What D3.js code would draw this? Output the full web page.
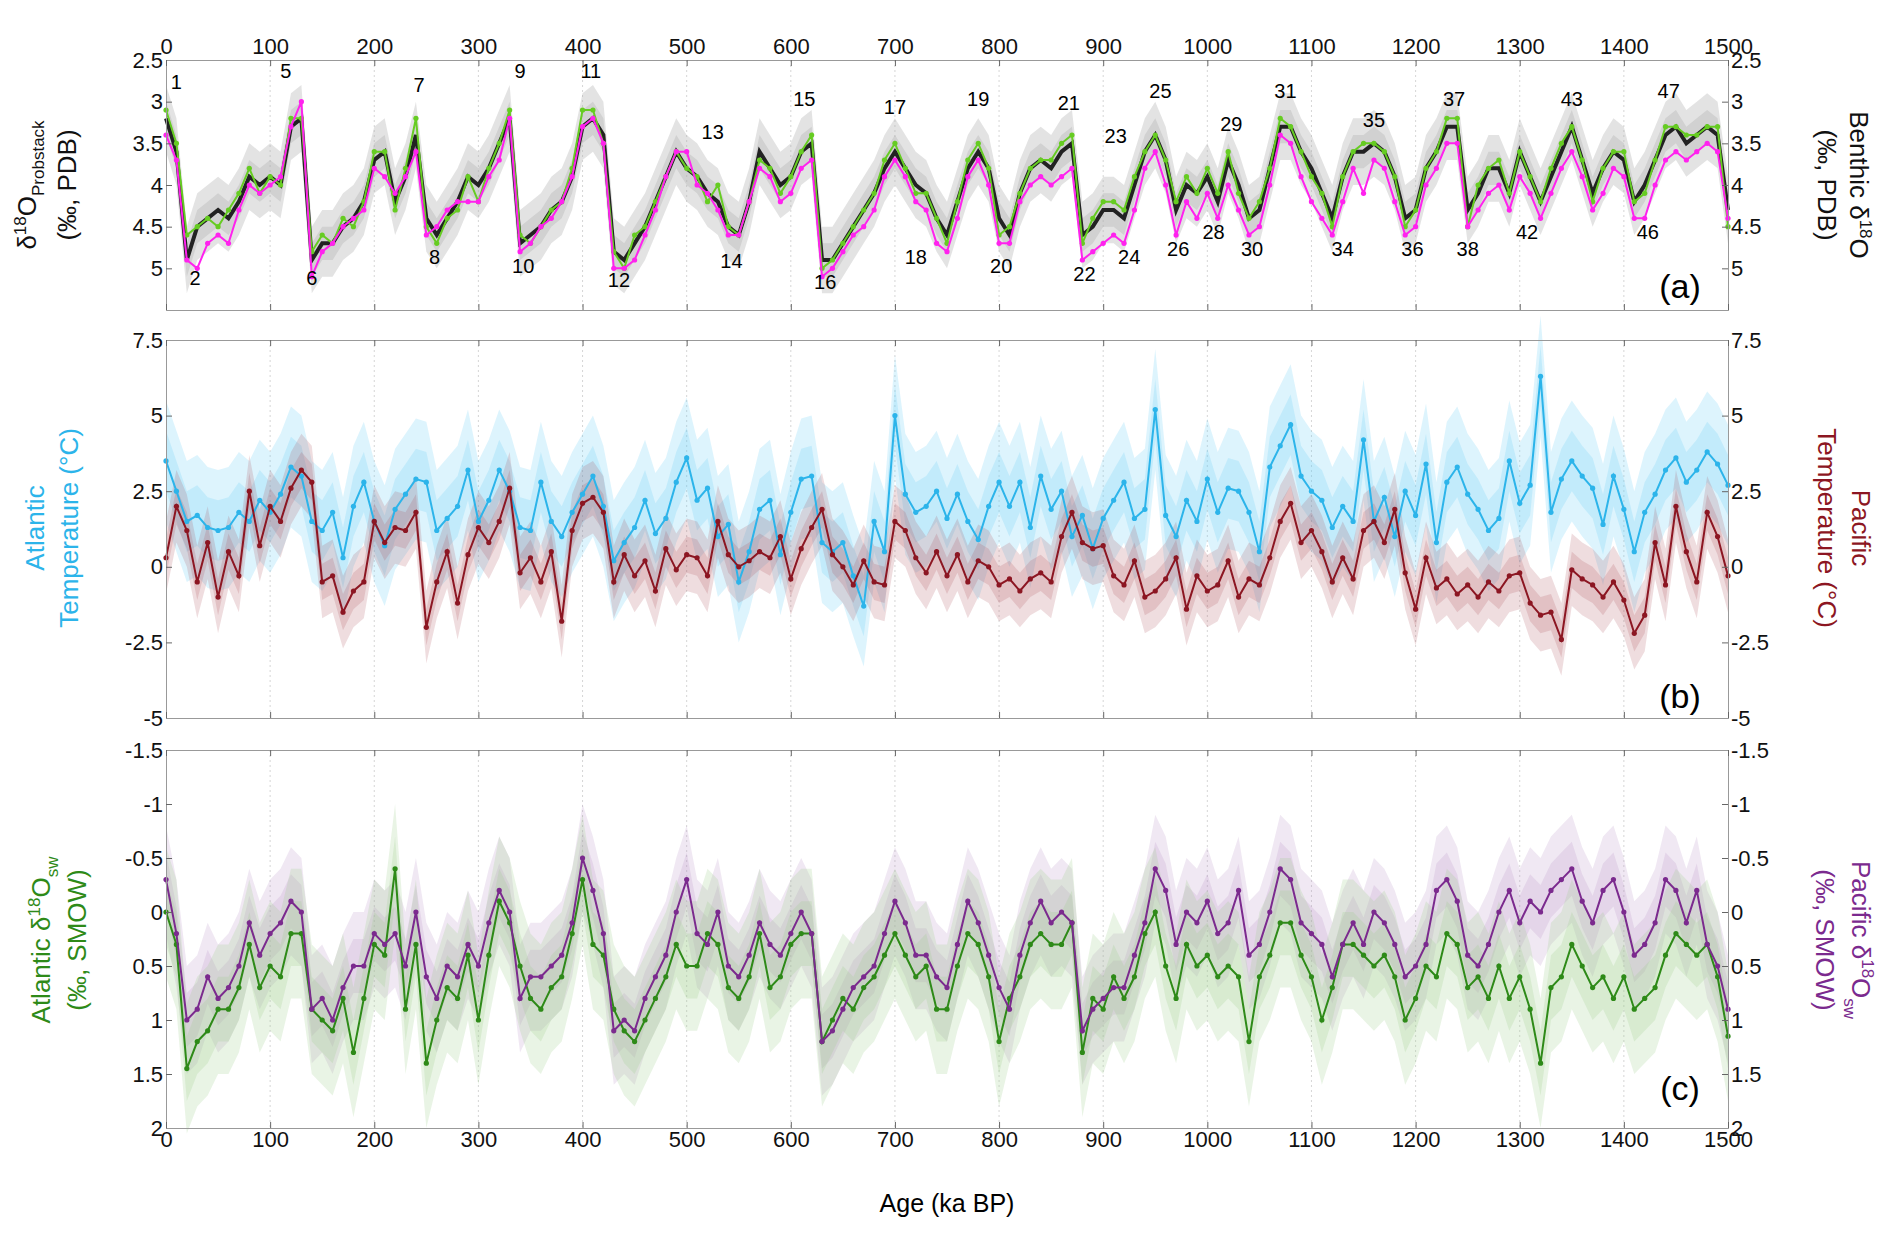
<!DOCTYPE html>
<html><head><meta charset="utf-8">
<script src="https://cdn.jsdelivr.net/npm/d3@7"></script>
<style>body{margin:0;background:#fff}text{font-family:"Liberation Sans",Arial,sans-serif}</style>
</head><body><div id="chart"></div>
<script>
// ages sampled every 10 ka
const ages = d3.range(0, 1501, 10);

const probStack = [3.2,3.6,4.9,4.5,4.4,4.3,4.4,4.2,3.9,4.0,3.9,4.0,3.3,3.2,4.9,4.7,4.7,4.5,4.4,4.2,3.7,3.6,4.2,3.9,3.4,4.4,4.6,4.4,4.2,3.9,4.0,3.8,3.5,3.2,4.7,4.6,4.5,4.3,4.2,3.9,3.3,3.2,3.4,4.8,4.9,4.7,4.5,4.2,3.9,3.6,3.8,3.9,4.1,4.2,4.5,4.6,4.2,3.6,3.8,4.0,3.9,3.6,3.5,4.9,4.9,4.7,4.5,4.3,4.1,3.8,3.6,3.8,4.0,4.1,4.4,4.6,4.2,3.8,3.6,3.8,4.4,4.6,4.1,3.8,3.7,3.8,3.6,3.5,4.6,4.5,4.3,4.3,4.4,4.0,3.6,3.4,3.7,4.3,4.0,4.1,3.9,4.2,3.7,4.0,4.4,4.3,3.8,3.3,3.3,3.6,3.8,4.1,4.4,3.9,3.6,3.6,3.5,3.6,3.9,4.4,4.3,3.8,3.6,3.3,3.3,4.3,4.1,3.8,3.8,4.1,3.6,3.9,4.2,3.9,3.6,3.3,3.7,4.1,3.8,3.6,3.7,4.2,4.0,3.7,3.4,3.3,3.5,3.4,3.3,3.4,4.3];
const atlBenthic = [3.1,3.5,4.6,4.5,4.4,4.5,4.3,4.1,3.8,4.1,3.9,4.0,3.2,3.2,4.8,4.6,4.7,4.4,4.5,4.2,3.6,3.6,4.3,3.8,3.2,4.5,4.7,4.4,4.3,3.9,4.2,3.8,3.5,3.1,4.6,4.7,4.5,4.3,4.2,3.8,3.1,3.1,3.5,4.8,5.0,4.6,4.5,4.2,3.9,3.6,3.8,3.9,4.2,4.0,4.5,4.6,4.2,3.7,3.8,4.1,3.9,3.6,3.4,5.0,4.9,4.7,4.5,4.3,4.1,3.7,3.5,3.8,4.1,4.1,4.4,4.7,4.2,3.7,3.5,3.8,4.6,4.5,4.1,3.8,3.7,3.7,3.5,3.4,4.7,4.4,4.2,4.2,4.3,3.9,3.6,3.4,3.7,4.2,3.9,4.1,3.8,4.1,3.6,4.1,4.4,4.2,3.8,3.2,3.3,3.6,3.9,4.1,4.5,3.9,3.6,3.5,3.5,3.6,3.9,4.5,4.3,3.8,3.6,3.2,3.2,4.5,4.0,3.8,3.7,4.1,3.6,3.9,4.2,3.8,3.5,3.3,3.7,4.2,3.8,3.6,3.6,4.2,4.1,3.7,3.3,3.3,3.4,3.4,3.3,3.3,4.5];
const pacBenthic = [3.4,3.7,4.9,5.0,4.7,4.6,4.7,4.3,4.0,4.1,4.0,3.9,3.3,3.0,5.1,4.8,4.7,4.5,4.4,4.3,3.8,3.9,4.1,3.9,3.6,4.6,4.5,4.3,4.2,4.2,4.2,3.9,3.7,3.2,4.8,4.7,4.5,4.4,4.2,3.9,3.3,3.2,3.5,5.0,5.0,4.9,4.6,4.3,3.9,3.6,3.6,4.0,4.1,4.3,4.6,4.6,4.2,3.8,3.9,4.2,4.1,3.8,3.7,5.1,5.0,4.8,4.6,4.5,4.3,3.9,3.7,3.9,4.2,4.3,4.7,4.8,4.4,3.9,3.7,4.0,4.7,4.7,4.2,4.0,3.9,4.0,3.9,3.8,4.9,4.8,4.7,4.6,4.7,4.3,3.8,3.6,4.0,4.6,4.2,4.4,4.1,4.4,4.0,4.3,4.6,4.5,4.0,3.4,3.5,3.9,4.2,4.4,4.6,4.2,3.8,4.1,3.7,3.8,4.2,4.6,4.5,4.0,3.8,3.5,3.5,4.5,4.3,4.1,4.0,4.3,3.9,4.1,4.4,4.1,3.8,3.6,3.9,4.3,4.1,3.8,3.9,4.4,4.4,4.0,3.7,3.6,3.7,3.6,3.5,3.6,4.4];

const atlTemp = [3.5,2.5,1.5,1.7,1.3,1.2,1.3,1.8,1.5,2.2,1.8,2.4,3.3,3.0,1.5,1.2,1.8,0.3,2.0,2.8,1.5,0.7,1.9,2.4,2.9,2.8,1.2,1.6,2.0,3.2,1.5,2.2,3.2,2.5,1.3,1.2,2.8,1.5,1.0,1.8,2.4,3.0,2.0,0.2,0.8,1.3,2.2,1.1,1.6,2.8,3.6,2.2,2.6,1.0,1.4,-0.5,0.5,1.9,2.2,0.4,1.8,2.9,3.0,0.8,0.5,0.8,-0.3,-1.3,1.5,0.5,5.0,2.4,1.8,2.0,2.5,1.6,2.4,1.5,0.9,2.0,2.8,2.0,2.8,1.3,3.0,1.9,2.5,1.0,1.7,0.6,1.6,2.2,2.8,1.6,1.9,5.2,1.7,1.0,2.2,1.5,2.9,1.8,2.6,2.5,1.8,0.5,3.3,4.0,4.7,3.0,2.5,2.2,1.3,2.0,1.5,4.2,1.5,2.3,1.0,2.5,1.7,3.4,0.8,2.8,3.3,2.4,1.9,1.2,1.6,3.5,2.1,2.7,6.3,1.8,2.9,3.5,3.0,2.6,1.4,3.0,1.9,0.5,1.8,2.4,3.2,3.6,2.8,3.2,3.8,3.4,2.7];
const pacTemp = [0.3,2.0,1.2,-0.5,0.8,-1.0,0.5,-0.3,2.5,0.7,2.0,1.5,2.6,3.2,2.8,-0.5,-0.3,-1.5,-0.8,-0.5,1.5,0.8,1.3,1.2,1.8,-2.0,-0.5,0.5,-1.2,0.4,1.3,0.8,1.5,2.6,-0.2,0.3,-0.5,0.5,-1.8,1.2,2.1,2.3,1.8,-0.5,0.4,-0.3,0.2,-0.8,0.6,-0.1,0.4,0.3,-0.3,1.5,0.4,0.0,0.2,0.5,0.3,1.0,-0.4,0.6,1.3,1.9,0.4,0.0,-0.6,0.2,-0.5,-0.6,1.5,1.2,0.3,-0.2,0.5,-0.3,0.4,-0.5,0.2,0.0,-0.6,-0.4,-0.8,-0.4,-0.2,-0.5,1.0,1.8,0.8,0.6,0.7,-0.3,-0.6,0.2,-1.0,-0.8,-0.4,0.3,-1.4,-0.3,-0.8,-0.6,0.2,-1.0,-0.4,-0.6,0.3,1.5,2.1,0.8,1.2,0.5,-0.5,0.3,-0.4,1.2,1.5,0.8,1.9,-0.2,-1.4,0.3,-0.7,-0.4,-0.9,-0.6,-1.0,-0.5,-0.8,-0.3,-0.2,-1.2,-1.6,-1.5,-2.4,-0.1,-0.4,-0.6,-1.0,-0.5,-1.1,-2.2,-1.6,0.8,-0.6,2.0,0.5,-0.5,1.8,1.0,-0.3];

const atlSw = [0.0,0.3,1.45,1.2,1.1,0.9,0.9,0.7,0.3,0.7,0.5,0.6,0.2,0.2,0.9,1.0,1.1,0.8,1.3,0.8,0.3,0.4,-0.4,0.9,0.3,1.4,1.0,0.7,0.8,0.4,1.0,0.4,-0.1,0.1,0.5,0.8,0.9,0.7,0.6,0.2,-0.3,0.3,0.4,0.9,1.1,1.2,1.0,0.8,0.6,0.3,0.5,0.5,0.2,0.3,0.7,0.8,0.6,0.2,0.7,0.6,0.3,0.2,0.2,1.2,1.0,0.8,0.9,0.7,0.6,0.4,0.2,0.4,0.6,0.5,0.9,0.9,0.5,0.2,0.3,0.6,1.2,0.8,0.6,0.3,0.2,0.3,0.3,0.1,1.3,0.8,0.9,0.6,0.8,0.6,0.2,0.0,0.5,0.8,0.3,0.5,0.4,0.6,0.5,0.6,1.2,0.6,0.4,0.1,0.1,0.4,0.6,1.0,0.7,0.3,0.3,0.4,0.5,0.4,0.6,1.0,0.8,0.5,0.6,0.2,0.3,0.7,0.6,0.8,0.5,0.8,0.6,0.9,1.4,0.7,0.6,0.3,0.5,0.7,0.6,0.8,0.6,0.9,0.8,0.7,0.4,0.2,0.3,0.4,0.3,0.6,1.15];
const pacSw = [-0.3,0.2,1.0,0.9,0.6,0.8,0.7,0.5,0.1,0.4,0.2,0.1,-0.1,0.0,0.9,0.8,1.0,0.7,0.5,0.5,0.2,0.3,0.2,0.5,0.0,0.6,0.8,0.5,0.6,0.3,0.5,0.1,-0.2,0.0,0.8,0.6,0.6,0.5,0.4,0.1,-0.5,-0.2,0.2,1.1,1.0,1.1,0.8,0.6,0.4,0.0,-0.3,0.2,0.3,0.0,0.5,0.6,0.4,0.1,0.3,0.4,0.2,0.0,0.2,1.2,1.1,0.9,0.7,0.6,0.5,0.2,-0.1,0.1,0.4,0.4,0.6,0.7,0.3,-0.1,0.1,0.4,0.7,0.9,0.4,0.1,-0.1,0.1,0.0,0.1,1.1,0.9,0.8,0.7,0.7,0.4,0.1,-0.4,-0.2,0.3,0.0,0.1,-0.1,0.2,0.1,-0.2,0.4,0.3,0.0,-0.4,-0.3,0.1,0.2,0.3,0.6,0.3,0.1,0.3,0.0,0.1,0.3,0.6,0.5,0.3,-0.2,-0.3,-0.1,0.4,0.5,0.3,0.0,-0.2,0.1,-0.1,0.0,-0.2,-0.3,-0.4,-0.1,0.1,-0.2,-0.3,0.0,0.4,0.3,0.1,-0.3,-0.2,0.1,-0.2,0.3,0.5,0.9];

// 1-sigma uncertainty widths for the shaded envelopes
const sigStack = 0.2, sigAtlT = 1.0, sigPacT = 0.6, sigAtlSw = 0.3, sigPacSw = 0.25;

const misLabels = [[10,2.85,"1"],[28,5.2,"2"],[115,2.72,"5"],[140,5.2,"6"],[243,2.88,"7"],[258,4.95,"8"],[340,2.72,"9"],[343,5.05,"10"],[408,2.72,"11"],[435,5.22,"12"],[525,3.45,"13"],[543,5.0,"14"],[613,3.05,"15"],[633,5.25,"16"],[700,3.15,"17"],[720,4.95,"18"],[780,3.05,"19"],[802,5.05,"20"],[867,3.1,"21"],[882,5.15,"22"],[912,3.5,"23"],[925,4.95,"24"],[955,2.95,"25"],[972,4.85,"26"],[1006,4.65,"28"],[1023,3.35,"29"],[1043,4.85,"30"],[1075,2.95,"31"],[1130,4.85,"34"],[1160,3.3,"35"],[1197,4.85,"36"],[1237,3.05,"37"],[1250,4.85,"38"],[1307,4.65,"42"],[1350,3.05,"43"],[1423,4.65,"46"],[1443,2.95,"47"]];

const W = 1892, H = 1241;
const svg = d3.select("#chart").append("svg").attr("width", W).attr("height", H);
const x = d3.scaleLinear().domain([0, 1500]).range([166, 1728]);

function panel(y) {
  const [top, bottom] = y.range();
  const g = svg.append("g");
  g.y = y;
  g.selectAll("line.grid").data(d3.range(100, 1500, 100)).join("line")
    .attr("x1", d => x(d)).attr("x2", d => x(d)).attr("y1", top).attr("y2", bottom)
    .attr("stroke", "#ccc").attr("stroke-dasharray", "2,3").attr("stroke-width", 0.8);
  return g;
}

function band(g, vals, sig, color, op) {
  const area = d3.area().x((d, i) => x(ages[i]));
  [2, 1].forEach(k => {
    g.append("path").datum(vals)
      .attr("d", area.y0(d => g.y(d - k * sig)).y1(d => g.y(d + k * sig)))
      .attr("fill", color).attr("opacity", op);
  });
}

function series(g, vals, color, w) {
  g.append("path").datum(vals)
    .attr("d", d3.line().x((d, i) => x(ages[i])).y(d => g.y(d)))
    .attr("fill", "none").attr("stroke", color).attr("stroke-width", w);
  g.selectAll(null).data(vals).join("circle")
    .attr("cx", (d, i) => x(ages[i])).attr("cy", d => g.y(d)).attr("r", 2.6).attr("fill", color);
}

function axes(g, y, tickVals, labels) {
  const yr = y.range();
  const f = d => (Math.round(d * 10) / 10).toString();
  g.append("g").attr("transform", `translate(${x.range()[0]},0)`)
    .call(d3.axisLeft(y).tickValues(tickVals).tickFormat(f).tickSize(-6));
  g.append("g").attr("transform", `translate(${x.range()[1]},0)`)
    .call(d3.axisRight(y).tickValues(tickVals).tickFormat(f).tickSize(-6));
  g.append("g").attr("transform", `translate(0,${yr[1]})`)
    .call(d3.axisBottom(x).tickValues(d3.range(0, 1501, 100)).tickSize(-6).tickFormat(labels === "bottom" ? d3.format("d") : ""));
  g.append("g").attr("class", "topax").attr("transform", `translate(0,${yr[0]})`)
    .call(d3.axisTop(x).tickValues(d3.range(0, 1501, 100)).tickSize(-6).tickFormat(labels === "top" ? d3.format("d") : ""));
  g.selectAll(".tick text").attr("font-size", 22).attr("fill", "#111");
  g.selectAll(".domain").attr("stroke", "#999");
  g.selectAll(".tick line").attr("stroke", "#666");
}

// ---- panel (a)
const ya = d3.scaleLinear().domain([2.5, 5.5]).range([60, 310]);
const ga = panel(ya);
band(ga, probStack, sigStack, "#b0b0b0", 0.35);
ga.append("path").datum(probStack)
  .attr("d", d3.line().x((d, i) => x(ages[i])).y(d => ya(d)))
  .attr("fill", "none").attr("stroke", "#222").attr("stroke-width", 4);
series(ga, atlBenthic, "#66cc22", 2);
series(ga, pacBenthic, "#ff22ee", 2);
ga.selectAll("text.mis").data(misLabels).join("text").attr("class", "mis")
  .attr("x", d => x(d[0])).attr("y", d => ya(d[1])).attr("text-anchor", "middle")
  .attr("font-size", 20).text(d => d[2]);
axes(ga, ya, [2.5, 3, 3.5, 4, 4.5, 5], "top");
ga.selectAll(".topax .tick text").attr("dy", "-0.15em");
ga.append("text").attr("x", 1680).attr("y", 298).attr("font-size", 34).attr("text-anchor", "middle").text("(a)");

// ---- panel (b)
const yb = d3.scaleLinear().domain([7.5, -5]).range([340, 718]);
const gb = panel(yb);
band(gb, atlTemp, sigAtlT, "#66ccf5", 0.22);
band(gb, pacTemp, sigPacT, "#a64050", 0.18);
series(gb, atlTemp, "#2cb4ea", 2);
series(gb, pacTemp, "#8c1622", 2);
axes(gb, yb, [-5, -2.5, 0, 2.5, 5, 7.5], "none");
gb.append("text").attr("x", 1680).attr("y", 708).attr("font-size", 34).attr("text-anchor", "middle").text("(b)");

// ---- panel (c)
const yc = d3.scaleLinear().domain([-1.5, 2]).range([750, 1128]);
const gc = panel(yc);
band(gc, pacSw, sigPacSw, "#b58bc4", 0.2);
band(gc, atlSw, sigAtlSw, "#9ccc8a", 0.22);
series(gc, atlSw, "#2e8a18", 2);
series(gc, pacSw, "#7b2a8e", 2);
axes(gc, yc, [-1.5, -1, -0.5, 0, 0.5, 1, 1.5, 2], "bottom");
gc.append("text").attr("x", 1680).attr("y", 1100).attr("font-size", 34).attr("text-anchor", "middle").text("(c)");

svg.append("text").attr("x", x(750)).attr("y", 1212).attr("text-anchor", "middle").attr("font-size", 25).text("Age (ka BP)");

// ---- axis titles
function title(xp, yc, rot, color, parts) {
  const t = svg.append("text").attr("transform", `translate(${xp},${yc}) rotate(${rot})`)
    .attr("text-anchor", "middle").attr("fill", color).attr("font-size", 26);
  parts.forEach(p => {
    const s = t.append("tspan").text(p[0]);
    if (p[1] === "sup") s.attr("font-size", 17).attr("dy", -10);
    if (p[1] === "sub") s.attr("font-size", 17).attr("dy", 8);
    if (p[1] === "back") s.attr("dy", p[2]);
  });
}
title(36, 185, -90, "#111", [["δ"], ["18", "sup"], ["O", "back", 10], ["Probstack", "sub"]]);
title(76, 185, -90, "#111", [["(‰, PDB)"]]);
title(1850, 185, 90, "#111", [["Benthic  δ"], ["18", "sup"], ["O", "back", 10]]);
title(1818, 185, 90, "#111", [["(‰, PDB)"]]);
title(44, 528, -90, "#2cb4ea", [["Atlantic"]]);
title(78, 528, -90, "#2cb4ea", [["Temperature (°C)"]]);
title(1852, 528, 90, "#8c1622", [["Pacific"]]);
title(1818, 528, 90, "#8c1622", [["Temperature (°C)"]]);
title(50, 940, -90, "#2e8a18", [["Atlantic δ"], ["18", "sup"], ["O", "back", 10], ["sw", "sub"]]);
title(86, 940, -90, "#2e8a18", [["(‰, SMOW)"]]);
title(1852, 940, 90, "#7b2a8e", [["Pacific δ"], ["18", "sup"], ["O", "back", 10], ["sw", "sub"]]);
title(1816, 940, 90, "#7b2a8e", [["(‰, SMOW)"]]);
</script></body></html>
